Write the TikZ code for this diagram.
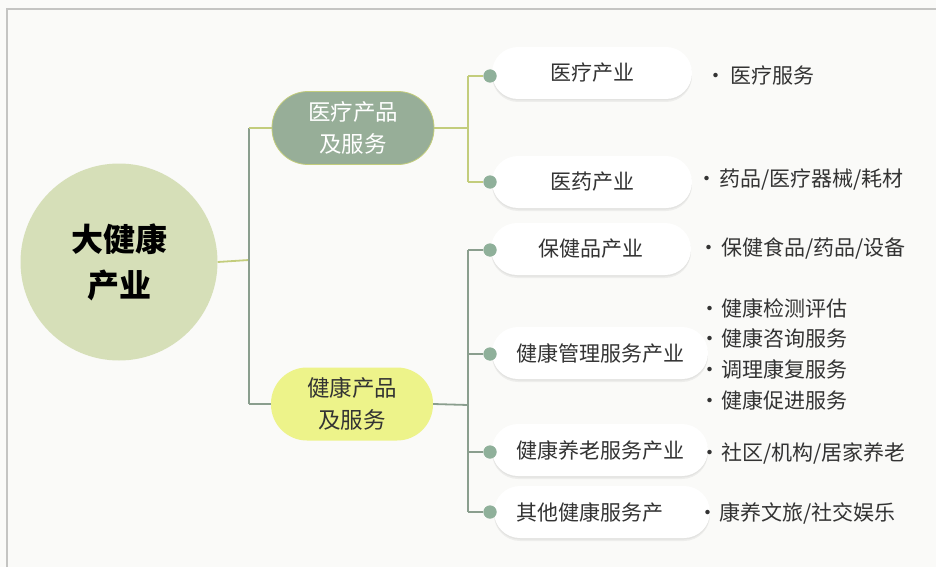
\documentclass[tikz,border=0pt]{standalone}
\usepackage{fontspec}
\newfontfamily\cjk{Noto Sans CJK SC}
\usetikzlibrary{shadows}
\definecolor{bgc}{HTML}{FAFAF8}
\definecolor{framec}{HTML}{C4C4C2}
\definecolor{rootc}{HTML}{D6DFB8}
\definecolor{sagec}{HTML}{97AE98}
\definecolor{yelc}{HTML}{EDF38A}
\definecolor{lineY}{HTML}{C3CD7C}
\definecolor{lineG}{HTML}{8A9E8E}
\definecolor{dotc}{HTML}{8FB09A}
\definecolor{txtc}{HTML}{333333}
\tikzset{
  lny/.style={draw=lineY,line width=1.8pt},
  lng/.style={draw=lineG,line width=1.8pt},
  dotn/.style={circle,fill=dotc,minimum size=13pt,inner sep=0pt},
  toppill/.style={rectangle,rounded corners=36pt,minimum width=162pt,minimum height=73pt,align=center,inner sep=0pt,font=\cjk\fontsize{22.5}{32}\selectfont},
  childpill/.style={rectangle,rounded corners=26pt,fill=white,minimum height=52pt,inner sep=0pt,font=\cjk\fontsize{21}{24}\selectfont,text=txtc,
    drop shadow={shadow xshift=0pt,shadow yshift=-3pt,opacity=0.05,fill=black},
    drop shadow={shadow xshift=0pt,shadow yshift=-1.5pt,opacity=0.04,fill=black}},
  leaf/.style={anchor=west,inner sep=0pt,font=\cjk\fontsize{21}{24}\selectfont,text=txtc},
}
\begin{document}
\begin{tikzpicture}[x=1pt,y=-1pt]
\useasboundingbox (0,0) rectangle (936,567);
\fill[bgc] (0,0) rectangle (936,567);
\draw[framec,line width=1.5pt] (7,567) -- (7,9) -- (936,9);
% root
\node[circle,fill=rootc,minimum size=197pt,inner sep=0pt,align=center,font=\cjk\bfseries\fontsize{32}{46}\selectfont] (root) at (119,262) {大健康\\产业};
% level 1
\node[toppill,fill=sagec,draw=lineY,line width=0.8pt,text=white] (med) at (353,128) {医疗产品\\及服务};
\node[toppill,fill=yelc,text=txtc] (heal) at (352,404) {健康产品\\及服务};
\coordinate (j1) at (249,260);
\draw[lny] (root.east) -- (j1);
\draw[lng] (j1 |- med.west) -- (j1 |- heal.west);
\draw[lny] (j1 |- med.west) -- (med.west);
\draw[lng] (j1 |- heal.west) -- (heal.west);
% children
\node[childpill,minimum width=200pt] (c1) at (592,73) {医疗产业};
\node[childpill,minimum width=200pt] (c2) at (592,182) {医药产业};
\node[childpill,minimum width=200pt] (c3) at (591,249) {保健品产业};
\node[childpill,minimum width=216pt] (c4) at (600,353) {健康管理服务产业};
\node[childpill,minimum width=216pt] (c5) at (600,450) {健康养老服务产业};
\node[childpill,minimum width=216pt,text width=172pt,align=left] (c6) at (602,512) {其他健康服务产};
% dots
\node[dotn] (d1) at (490,76) {};
\node[dotn] (d2) at (490,182) {};
\node[dotn] (d3) at (490,250) {};
\node[dotn] (d4) at (490,354) {};
\node[dotn] (d5) at (490,452) {};
\node[dotn] (d6) at (490,512) {};
\coordinate (j2) at (468,128);
\coordinate (j3) at (468,405);
\draw[lny] (med.east) -- (j2);
\draw[lny] (j2 |- d1) -- (j2 |- d2);
\draw[lny] (j2 |- d1) -- (d1);
\draw[lny] (j2 |- d2) -- (d2);
\draw[lng] (heal.east) -- (j3);
\draw[lng] (j3 |- d3) -- (j3 |- d6);
\foreach \d in {d3,d4,d5,d6} \draw[lng] (j3 |- \d) -- (\d);
\foreach \d in {d1,d2,d3,d4,d5,d6} \node[dotn] at (\d) {};
% leaves
\node[leaf] (l1) at (705,75) {·\hspace{4pt}医疗服务};
\node[leaf] (l2) at (696,180) {·\hspace{2pt}药品/医疗器械/耗材};
\node[leaf] (l3) at (698,248) {·\hspace{2pt}保健食品/药品/设备};
\node[leaf] (l4) at (699,308) {·\hspace{1pt}健康检测评估};
\node[leaf] (l5) at (699,339) {·\hspace{1pt}健康咨询服务};
\node[leaf] (l6) at (699,369) {·\hspace{1pt}调理康复服务};
\node[leaf] (l7) at (699,400) {·\hspace{1pt}健康促进服务};
\node[leaf] (l8) at (699,453) {·\hspace{1pt}社区/机构/居家养老};
\node[leaf] (l9) at (697,513) {·\hspace{1pt}康养文旅/社交娱乐};
\end{tikzpicture}
\end{document}
